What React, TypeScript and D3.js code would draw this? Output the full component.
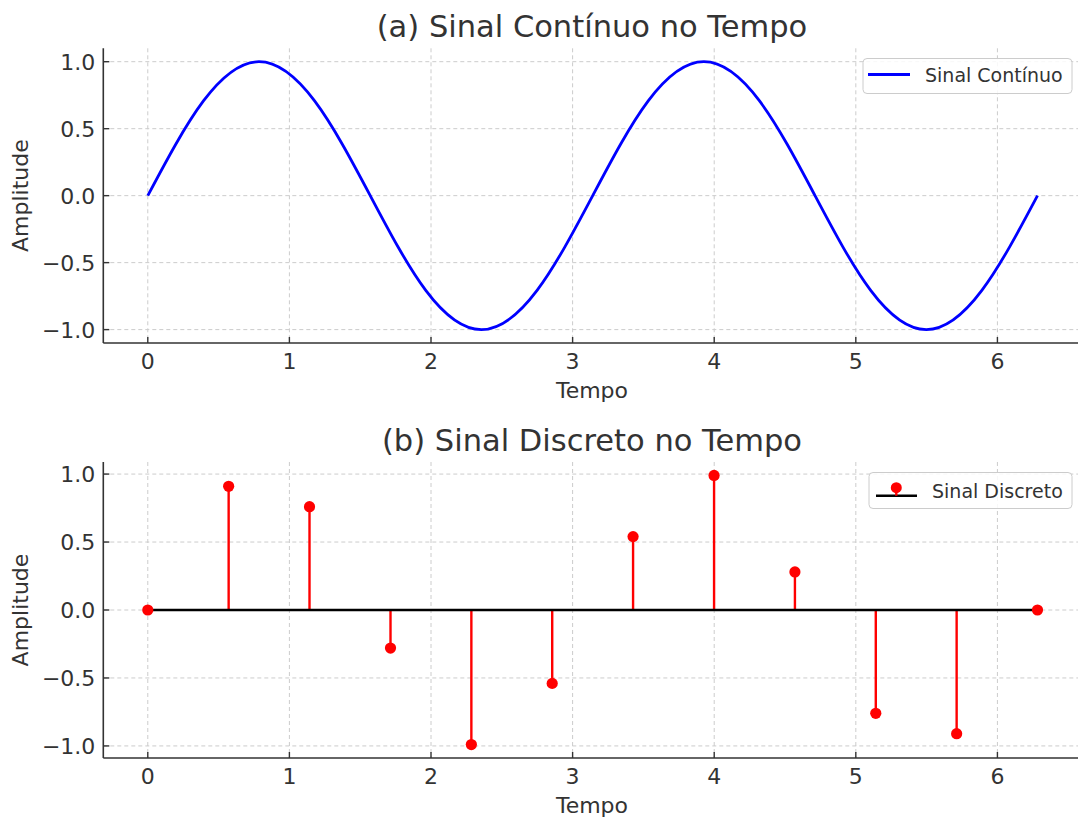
import React from "react";
import * as d3 from "d3";

const contTime = [0, 0.393, 0.785, 1.178, 1.571, 1.963, 2.356, 2.749, 3.142, 3.534, 3.927, 4.32, 4.712, 5.105, 5.498, 5.89, 6.283];
const contAmp = [0, 0.707, 1, 0.707, 0, -0.707, -1, -0.707, 0, 0.707, 1, 0.707, 0, -0.707, -1, -0.707, 0];

const discTime = [0, 0.571, 1.142, 1.714, 2.285, 2.856, 3.427, 3.999, 4.57, 5.141, 5.712, 6.283];
const discAmp = [0, 0.91, 0.76, -0.28, -0.99, -0.54, 0.54, 0.99, 0.28, -0.76, -0.91, 0];

const xTicks = [0, 1, 2, 3, 4, 5, 6];
const yTicks = [-1.0, -0.5, 0.0, 0.5, 1.0];

const FONT = "'DejaVu Sans', sans-serif";
const TXT = "#333333";

function Axes({ top, bottom, yMax, title, children, legend }: any) {
  const x = d3.scaleLinear().domain([-0.3142, 6.5973]).range([103.3, 1082]);
  const y = d3.scaleLinear().domain([-yMax, yMax]).range([bottom, top]);
  const left = 103.3;
  const right = 1082;
  return (
    <g>
      <text x={592} y={top - 11} textAnchor="middle" fontSize={30.5} fill={TXT} fontFamily={FONT}>{title}</text>
      {xTicks.map((t) => (
        <line key={"gx" + t} x1={x(t)} x2={x(t)} y1={top} y2={bottom} stroke="#cccccc" strokeWidth={1} strokeDasharray="4,3" />
      ))}
      {yTicks.map((t) => (
        <line key={"gy" + t} x1={left} x2={right} y1={y(t)} y2={y(t)} stroke="#cccccc" strokeWidth={1} strokeDasharray="4,3" />
      ))}
      {children(x, y)}
      <line x1={left} x2={left} y1={top} y2={bottom} stroke={TXT} strokeWidth={1.6} />
      <line x1={left} x2={right} y1={bottom} y2={bottom} stroke={TXT} strokeWidth={1.6} />
      {xTicks.map((t) => (
        <g key={"tx" + t}>
          <line x1={x(t)} x2={x(t)} y1={bottom} y2={bottom - 6} stroke={TXT} strokeWidth={1.4} />
          <text x={x(t)} y={bottom + 26} textAnchor="middle" fontSize={22} fill={TXT} fontFamily={FONT}>{t}</text>
        </g>
      ))}
      {yTicks.map((t) => (
        <g key={"ty" + t}>
          <line x1={left} x2={left + 6} y1={y(t)} y2={y(t)} stroke={TXT} strokeWidth={1.4} />
          <text x={left - 8} y={y(t)} dy="0.36em" textAnchor="end" fontSize={22} fill={TXT} fontFamily={FONT}>
            {t.toFixed(1).replace("-", "\u2212")}
          </text>
        </g>
      ))}
      <text x={592} y={bottom + 55} textAnchor="middle" fontSize={22} fill={TXT} fontFamily={FONT}>Tempo</text>
      <text transform={`translate(28,${(top + bottom) / 2}) rotate(-90)`} textAnchor="middle" fontSize={22} fill={TXT} fontFamily={FONT}>Amplitude</text>
      {legend}
    </g>
  );
}

export default function App() {
  const contData = contTime.map((t, i) => [t, contAmp[i]] as [number, number]);
  const discData = discTime.map((t, i) => ({ t, v: discAmp[i] }));
  return (
    <svg width={1078} height={819} style={{ position: "absolute", left: 0, top: 0, background: "#fff" }}>
      <rect width={1078} height={819} fill="#fff" />
      <Axes
        top={48.3}
        bottom={343}
        yMax={1.1}
        title="(a) Sinal Contínuo no Tempo"
        legend={
          <g>
            <rect x={863} y={58.5} width={209} height={35} rx={4} fill="#fff" fillOpacity={0.85} stroke="#cccccc" strokeWidth={1} />
            <line x1={868} x2={910} y1={74.5} y2={74.5} stroke="#0000ff" strokeWidth={2.8} />
            <text x={925} y={82} fontSize={19} fill={TXT} fontFamily={FONT}>Sinal Contínuo</text>
          </g>
        }
      >
        {(x: any, y: any) => {
          const line = d3.line<[number, number]>().x((d) => x(d[0])).y((d) => y(d[1])).curve(d3.curveNatural);
          return <path d={line(contData) || ""} fill="none" stroke="#0000ff" strokeWidth={2.8} />;
        }}
      </Axes>
      <Axes
        top={462}
        bottom={758}
        yMax={1.0888}
        title="(b) Sinal Discreto no Tempo"
        legend={
          <g>
            <rect x={869} y={472.5} width={203} height={36} rx={4} fill="#fff" fillOpacity={0.85} stroke="#cccccc" strokeWidth={1} />
            <line x1={876} x2={917} y1={495.7} y2={495.7} stroke="#000" strokeWidth={2.6} />
            <line x1={896.3} x2={896.3} y1={488} y2={495.7} stroke="#ff0000" strokeWidth={2.4} />
            <circle cx={896.3} cy={487.7} r={5.5} fill="#ff0000" />
            <text x={932} y={498} fontSize={19} fill={TXT} fontFamily={FONT}>Sinal Discreto</text>
          </g>
        }
      >
        {(x: any, y: any) => (
          <g>
            {discData.map((d, i) => (
              <line key={"s" + i} x1={x(d.t)} x2={x(d.t)} y1={y(0)} y2={y(d.v)} stroke="#ff0000" strokeWidth={2.4} />
            ))}
            <line x1={x(discTime[0])} x2={x(discTime[discTime.length - 1])} y1={y(0)} y2={y(0)} stroke="#000" strokeWidth={2.6} />
            {discData.map((d, i) => (
              <circle key={"m" + i} cx={x(d.t)} cy={y(d.v)} r={5.6} fill="#ff0000" />
            ))}
          </g>
        )}
      </Axes>
    </svg>
  );
}
